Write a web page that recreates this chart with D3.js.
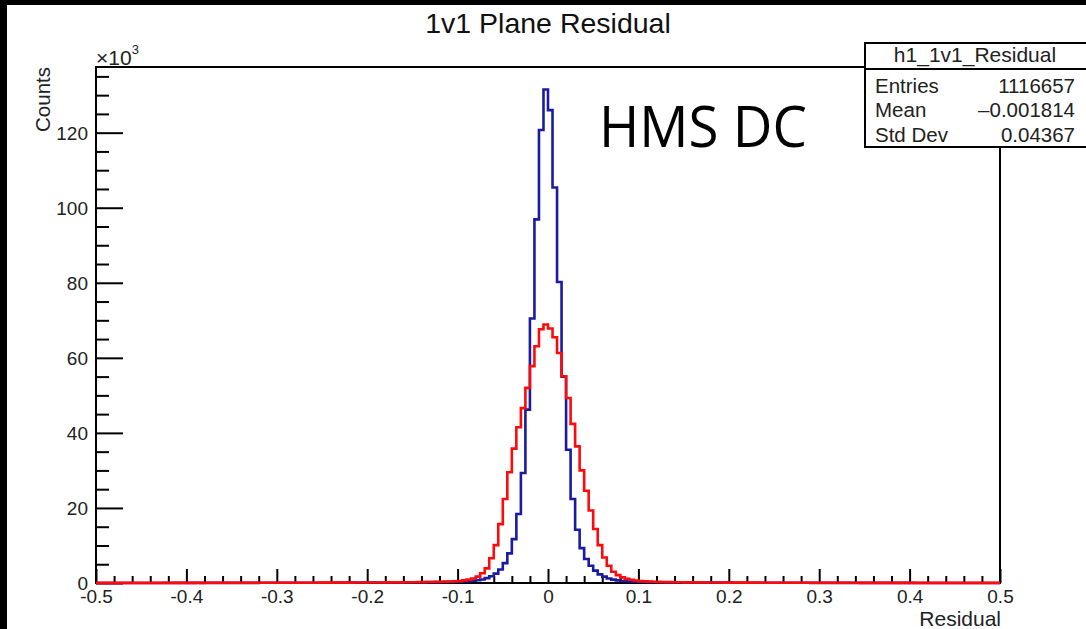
<!DOCTYPE html>
<html><head><meta charset="utf-8">
<script src="https://cdn.jsdelivr.net/npm/d3@7"></script>
<style>body{margin:0;background:#000;} svg{display:block}</style>
</head><body>
<svg id="c" width="1086" height="629"></svg>
<script>
// histogram definition: 200 bins from -0.5 to 0.5
const binLow = -0.5, binHigh = 0.5, binWidth = 0.005;
// counts in thousands (x10^3), bin 0 = [-0.5,-0.495]
const blueCounts = [
0.02,0.02,0.02,0.02,0.02,0.02,0.02,0.02,0.02,0.02,
0.02,0.02,0.02,0.02,0.02,0.03,0.02,0.03,0.03,0.03,
0.03,0.03,0.03,0.03,0.03,0.03,0.03,0.03,0.04,0.04,
0.04,0.04,0.04,0.04,0.04,0.04,0.05,0.05,0.05,0.05,
0.05,0.05,0.06,0.06,0.06,0.06,0.07,0.07,0.07,0.07,
0.08,0.08,0.08,0.09,0.09,0.09,0.10,0.10,0.11,0.11,
0.12,0.12,0.13,0.13,0.14,0.15,0.15,0.16,0.17,0.18,
0.19,0.20,0.21,0.22,0.23,0.24,0.26,0.28,0.30,0.33,
0.36,0.42,0.50,0.60,0.75,0.95,1.3,1.8,2.5,3.6,
5.3,7.9,11.7,18.4,29.3,46.2,70.5,96.9,120.7,131.5,
126.0,105.4,80.2,55.0,35.5,22.4,14.2,9.3,6.4,4.6,
3.3,2.3,1.7,1.2,0.9,0.7,0.55,0.45,0.38,0.32,
0.28,0.25,0.23,0.21,0.19,0.18,0.17,0.16,0.15,0.14,
0.13,0.13,0.12,0.12,0.11,0.11,0.10,0.10,0.09,0.09,
0.09,0.08,0.08,0.08,0.07,0.07,0.07,0.07,0.06,0.06,
0.06,0.06,0.05,0.05,0.05,0.05,0.05,0.05,0.04,0.04,
0.04,0.04,0.04,0.04,0.04,0.04,0.03,0.03,0.03,0.03,
0.03,0.03,0.03,0.03,0.03,0.03,0.03,0.03,0.03,0.03,
0.03,0.02,0.02,0.02,0.02,0.02,0.02,0.02,0.02,0.02,
0.02,0.02,0.02,0.02,0.02,0.02,0.02,0.02,0.02,0.02
];
const redCounts = [
0.03,0.03,0.03,0.03,0.03,0.03,0.03,0.04,0.03,0.04,
0.04,0.04,0.04,0.04,0.04,0.04,0.04,0.04,0.04,0.04,
0.04,0.04,0.05,0.04,0.05,0.05,0.05,0.05,0.05,0.05,
0.05,0.05,0.05,0.05,0.05,0.06,0.06,0.06,0.06,0.06,
0.06,0.07,0.07,0.07,0.07,0.08,0.08,0.08,0.08,0.09,
0.09,0.09,0.10,0.10,0.10,0.11,0.11,0.12,0.12,0.13,
0.13,0.14,0.14,0.15,0.16,0.16,0.17,0.18,0.19,0.20,
0.21,0.22,0.24,0.26,0.28,0.30,0.33,0.36,0.40,0.45,
0.55,0.7,0.9,1.2,1.7,2.6,3.9,6.6,10.1,15.7,
22.4,29.5,35.8,41.5,46.6,52.0,57.8,63.1,67.6,68.9,
67.8,65.5,61.3,55.1,49.3,42.4,36.4,30.0,24.6,19.3,
14.4,10.1,6.8,4.6,3.0,2.1,1.5,1.1,0.85,0.65,
0.50,0.42,0.36,0.32,0.29,0.26,0.24,0.22,0.20,0.19,
0.18,0.17,0.16,0.15,0.14,0.14,0.13,0.12,0.12,0.11,
0.11,0.10,0.10,0.10,0.09,0.09,0.09,0.08,0.08,0.08,
0.08,0.07,0.07,0.07,0.07,0.06,0.06,0.06,0.06,0.06,
0.06,0.05,0.05,0.05,0.05,0.05,0.05,0.05,0.05,0.04,
0.04,0.04,0.04,0.04,0.04,0.04,0.04,0.04,0.04,0.04,
0.04,0.04,0.03,0.03,0.03,0.03,0.03,0.03,0.03,0.03,
0.03,0.03,0.03,0.03,0.03,0.03,0.03,0.03,0.03,0.03
];
const xMajorTicks = [-0.5,-0.4,-0.3,-0.2,-0.1,0,0.1,0.2,0.3,0.4,0.5];
const xTickLabels = ["-0.5","-0.4","-0.3","-0.2","-0.1","0","0.1","0.2","0.3","0.4","0.5"];
const xMinorStep = 0.02;
const yMajorTicks = [0,20,40,60,80,100,120];
const yTickLabels = ["0","20","40","60","80","100","120"];
const yMinorStep = 5;
const yMax = 137.5;
const titleText = "1v1 Plane Residual";
const xTitle = "Residual", yTitle = "Counts";
const statsTitle = "h1_1v1_Residual";
const statsNames = ["Entries","Mean","Std Dev"];
const statsValues = ["1116657","\u20130.001814","0.04367"];
const noteText = "HMS DC";

const FONT = "'Liberation Sans', Arial, Helvetica, sans-serif";
const svg = d3.select('#c');
svg.append('rect').attr('x',7).attr('y',5).attr('width',1079).attr('height',624).attr('fill','#fff');

const L = 96, R = 1000, T = 67, B = 583;
const x = d3.scaleLinear().domain([binLow, binHigh]).range([L, R]);
const y = d3.scaleLinear().domain([0, yMax]).range([B, T]);

// title
svg.append('text').attr('x',548).attr('y',33).attr('text-anchor','middle')
  .attr('font-family',FONT).attr('font-size',28.5).attr('fill','#111').text(titleText);

// minor ticks
const xMinor = d3.range(Math.round((binHigh-binLow)/xMinorStep)+1).map(i => +(binLow + i*xMinorStep).toFixed(3))
  .filter(v => !xMajorTicks.some(m => Math.abs(m-v) < 1e-9));
const yMinor = d3.range(0, yMax, yMinorStep).filter(v => !yMajorTicks.includes(v));

const gxMinor = svg.append('g').attr('transform',`translate(0,${B})`)
  .call(d3.axisBottom(x).tickValues(xMinor).tickSize(-7).tickFormat(''));
const gx = svg.append('g').attr('transform',`translate(0,${B})`)
  .call(d3.axisBottom(x).tickValues(xMajorTicks).tickSize(-14).tickPadding(5)
     .tickFormat((d,i) => xTickLabels[i]));
const gyMinor = svg.append('g').attr('transform',`translate(${L},0)`)
  .call(d3.axisLeft(y).tickValues(yMinor).tickSize(-13).tickFormat(''));
const gy = svg.append('g').attr('transform',`translate(${L},0)`)
  .call(d3.axisLeft(y).tickValues(yMajorTicks).tickSize(-27).tickPadding(8)
     .tickFormat((d,i) => yTickLabels[i]));
[gxMinor,gx,gyMinor,gy].forEach(g => {
  g.select('.domain').remove();
  g.selectAll('line').attr('stroke','#000').attr('stroke-width',2);
  g.selectAll('text').attr('font-family',FONT).attr('font-size',19).attr('fill','#222');
});
gx.selectAll('text').attr('y',20).attr('dy',0);
gy.selectAll('text').attr('dy','0.34em');

// frame
svg.append('rect').attr('x',L).attr('y',T).attr('width',R-L).attr('height',B-T)
  .attr('fill','none').attr('stroke','#000').attr('stroke-width',2);

// histograms
function stepPoints(counts){
  const pts = [];
  counts.forEach((c,i) => { const x0 = binLow + i*binWidth; pts.push([x0,c],[x0+binWidth,c]); });
  return pts;
}
const line = d3.line().x(d => x(d[0])).y(d => y(d[1]));
svg.append('path').attr('d', line(stepPoints(blueCounts))).attr('fill','none')
  .attr('stroke','#1a1aa2').attr('stroke-width',2.6).attr('stroke-linejoin','miter');
svg.append('path').attr('d', line(stepPoints(redCounts))).attr('fill','none')
  .attr('stroke','#ff0a0a').attr('stroke-width',2.6).attr('stroke-linejoin','miter');

// axis titles
svg.append('text').attr('x',R+1).attr('y',626).attr('text-anchor','end')
  .attr('font-family',FONT).attr('font-size',21).attr('fill','#222').text(xTitle);
svg.append('text').attr('transform','translate(50,67) rotate(-90)').attr('text-anchor','end')
  .attr('font-family',FONT).attr('font-size',20.5).attr('fill','#222').text(yTitle);
const ex = svg.append('text').attr('x',96).attr('y',65).attr('font-family',FONT).attr('font-size',21).attr('fill','#222');
ex.append('tspan').text('\u00d710');
ex.append('tspan').attr('font-size',13).attr('dy',-11).text('3');

// stats box
const sb = svg.append('g');
sb.append('rect').attr('x',865).attr('y',43).attr('width',240).attr('height',104)
  .attr('fill','#fff').attr('stroke','#000').attr('stroke-width',2);
sb.append('line').attr('x1',865).attr('x2',1090).attr('y1',69).attr('y2',69).attr('stroke','#000').attr('stroke-width',2);
sb.append('text').attr('x',975).attr('y',62).attr('text-anchor','middle')
  .attr('font-family',FONT).attr('font-size',21).attr('fill','#222').text(statsTitle);
const rowY = [92.5,117.3,141.7];
statsNames.forEach((n,i) => {
  sb.append('text').attr('x',875).attr('y',rowY[i]).attr('font-family',FONT).attr('font-size',20.5).attr('fill','#222').text(n);
  sb.append('text').attr('x',1075).attr('y',rowY[i]).attr('text-anchor','end').attr('font-family',FONT).attr('font-size',20.5).attr('fill','#222').text(statsValues[i]);
});

// annotation
svg.append('text').attr('x',599).attr('y',147).attr('font-family',"'Open Sans','Liberation Sans',sans-serif")
  .attr('font-size',57).attr('textLength',208).attr('lengthAdjust','spacingAndGlyphs').attr('fill','#000').text(noteText);
</script>
</body></html>
